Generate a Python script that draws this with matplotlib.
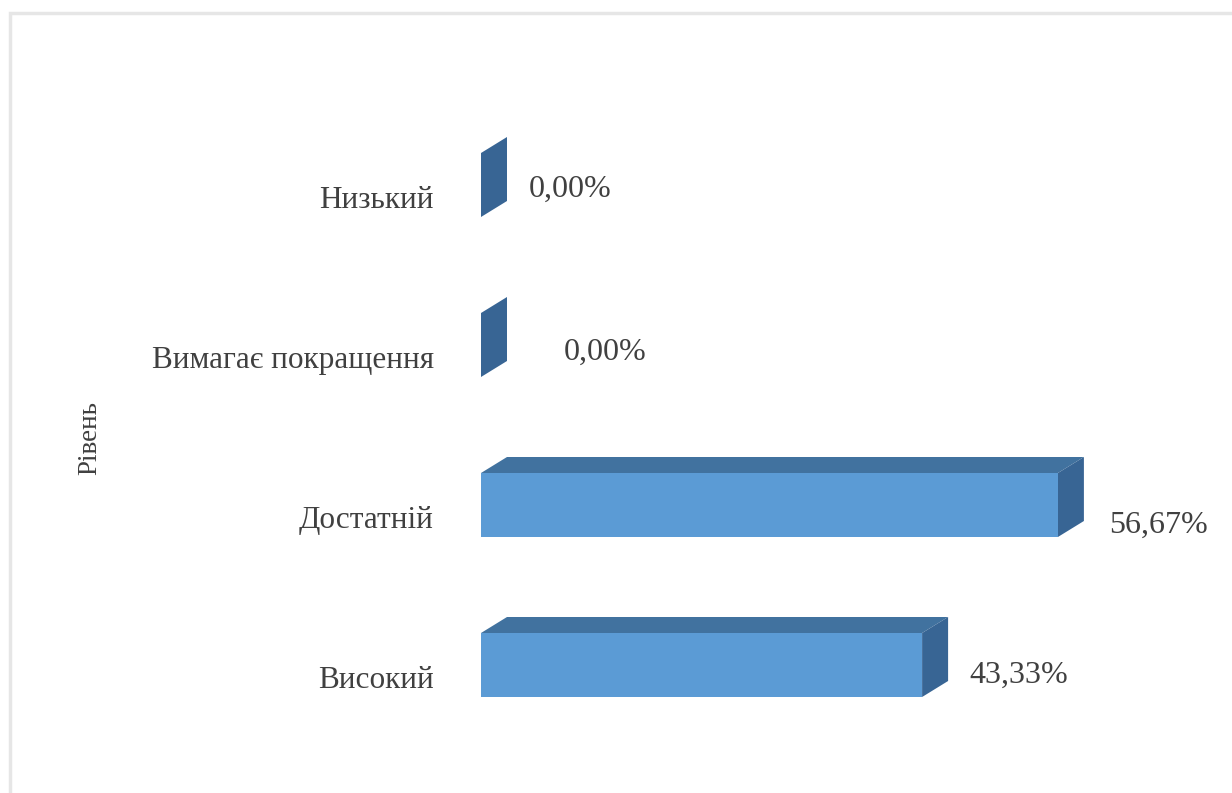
import matplotlib
matplotlib.use('Agg')
import matplotlib.pyplot as plt
from matplotlib.patches import Polygon, Rectangle
from matplotlib.transforms import ScaledTranslation

levels = ['Високий', 'Достатній', 'Вимагає покращення', 'Низький']
values = [43.33, 56.67, 0.00, 0.00]
value_labels = ['43,33%', '56,67%', '0,00%', '0,00%']

W, H = 1232, 793
FRONT = '#5B9BD5'
TOP = '#41729F'
SIDE = '#386594'
TEXT = '#404040'

plt.rcParams['font.family'] = ['Liberation Serif', 'DejaVu Serif']

fig = plt.figure(figsize=(W / 100, H / 100), dpi=100, facecolor='white')

# axes: x=0 sits at pixel 481, 10.18 px per percent; rows are 160 px apart
left, right, bottom, top = 481, 1181, H - 745, H - 105
ax = fig.add_axes([left / W, bottom / H, (right - left) / W, (top - bottom) / H])
ax.set_xlim(0, (right - left) / 10.18)
ax.set_ylim(-0.5, 3.5)
ax.patch.set_alpha(0)
for s in ax.spines.values():
    s.set_visible(False)

bar_h = 0.4
dx = 26 / 10.18
dy = 0.1

for i, v in enumerate(values):
    y0, y1 = i - bar_h / 2, i + bar_h / 2
    if v > 0:
        ax.barh(i, v, height=bar_h, color=FRONT, linewidth=0, zorder=3)
        ax.add_patch(Polygon([(0, y1), (v, y1), (v + dx, y1 + dy), (dx, y1 + dy)],
                             closed=True, color=TOP, linewidth=0, zorder=2))
    ax.add_patch(Polygon([(v, y0), (v + dx, y0 + dy), (v + dx, y1 + dy), (v, y1)],
                         closed=True, color=SIDE, linewidth=0, zorder=2))

# value labels were hand placed in the original, so each has its own offset
label_gap = [4.6, 5.0, 8.1, 4.7]
label_dy = [-10 / 160, -20 / 160, -7 / 160, -4 / 160]
for i, v in enumerate(values):
    ax.text(v + label_gap[i], i + label_dy[i], value_labels[i], ha='left', va='center',
            fontsize=23, color=TEXT)

ax.set_xticks([])
ax.set_yticks(range(len(levels)), levels)
ax.tick_params(axis='y', length=0, pad=34, labelsize=22.5, labelcolor=TEXT)
shift = ScaledTranslation(0, -8.6 / 72, fig.dpi_scale_trans)
for lab in ax.get_yticklabels():
    lab.set_transform(lab.get_transform() + shift)

fig.text(90 / W, 1 - 438 / H, 'Рівень', rotation=90, ha='center', va='center',
         fontsize=19.5, color=TEXT)

# frame of the chart area, cut off by the picture on the right and bottom
fig.add_artist(Rectangle((9.5 / W, -0.02), 1.1, 1 - 12.5 / H + 0.02, fill=False,
                         edgecolor='#E6E6E6', linewidth=2.5, transform=fig.transFigure))

fig.savefig('out.png', dpi=100, facecolor='white')
